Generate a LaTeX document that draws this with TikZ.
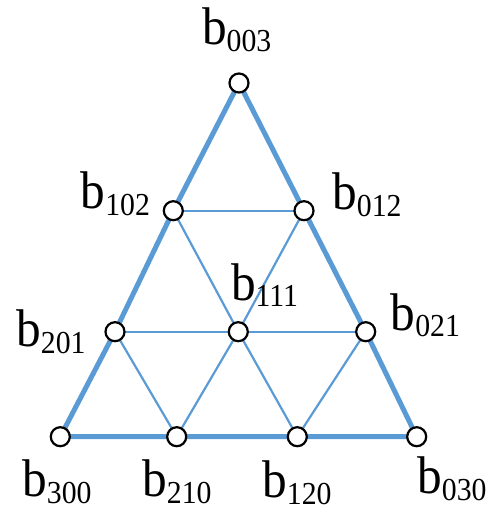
\documentclass[tikz,border=0pt]{standalone}
\usepackage{fontspec}
\setmainfont{Liberation Serif}
\newfontfamily\labfont{Liberation Serif}
\definecolor{edgeblue}{RGB}{91,155,213}
\newcommand{\blab}[1]{\scalebox{0.93}[1]{\labfont\fontsize{53}{53}\selectfont b\raisebox{-6.7pt}{\fontsize{32}{32}\selectfont #1}}}
\begin{document}
\begin{tikzpicture}[x=1pt,y=-1pt,
  pt/.style={circle,draw=black,fill=white,line width=2.2pt,minimum size=19pt,inner sep=0pt},
  outer/.style={draw=edgeblue,line width=5pt,line join=round},
  inner/.style={draw=edgeblue,line width=2.2pt},
  lab/.style={anchor=base west,inner sep=0pt,outer sep=0pt}]
\useasboundingbox (0,0) rectangle (501,513);
% control point positions
\coordinate (p003) at (239,83);
\coordinate (p102) at (173.3,210.7);
\coordinate (p012) at (304,210.7);
\coordinate (p201) at (115,331.7);
\coordinate (p111) at (238.3,331.7);
\coordinate (p021) at (365.7,331.7);
\coordinate (p300) at (60.3,436.7);
\coordinate (p210) at (176.7,436.7);
\coordinate (p120) at (297.3,436.7);
\coordinate (p030) at (416.7,436.7);
% inner grid
\draw[inner] (p102) -- (p012);
\draw[inner] (p201) -- (p111) -- (p021);
\draw[inner] (p210) -- (p111) -- (p012);
\draw[inner] (p120) -- (p021);
\draw[inner] (p201) -- (p210);
\draw[inner] (p102) -- (p111) -- (p120);
% outer triangle
\draw[outer] (p300) -- (p201) -- (p102) -- (p003) -- (p012) -- (p021) -- (p030) -- (p120) -- (p210) -- cycle;
% nodes
\foreach \n in {003,102,012,201,111,021,300,210,120,030}
  \node[pt] (n\n) at (p\n) {};
% labels
\node[lab] (l003) at (202,45) {\blab{003}};
\node[lab] (l102) at (80.7,208.3) {\blab{102}};
\node[lab] (l012) at (332.3,209.3) {\blab{012}};
\node[lab] (l201) at (16.3,346.7) {\blab{201}};
\node[lab] (l111) at (231,300) {\blab{111}};
\node[lab] (l021) at (390.7,330) {\blab{021}};
\node[lab] (l300) at (22.3,496.7) {\blab{300}};
\node[lab] (l210) at (142.3,496.7) {\blab{210}};
\node[lab] (l120) at (262.3,497.3) {\blab{120}};
\node[lab] (l030) at (417.3,493.3) {\blab{030}};
\end{tikzpicture}
\end{document}
